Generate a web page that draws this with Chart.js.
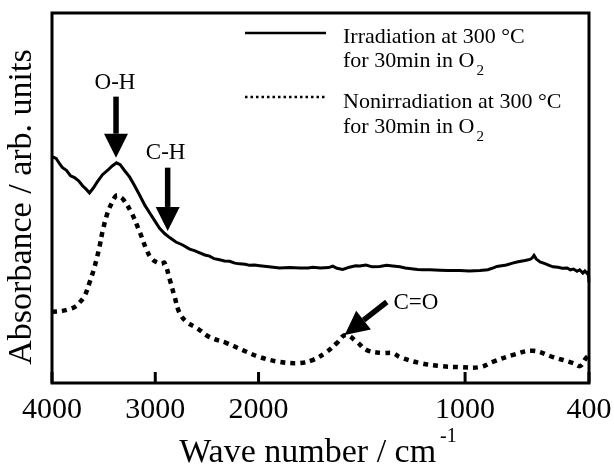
<!DOCTYPE html>
<html>
<head>
<meta charset="utf-8">
<script src="https://cdn.jsdelivr.net/npm/chart.js@4.4.0/dist/chart.umd.min.js"></script>
<style>
  body { margin: 0; background: #fff; }
  #wrap { width: 614px; height: 465px; }
</style>
</head>
<body>
<div id="wrap"><canvas id="c" width="614" height="465"></canvas></div>
<script>
// irradiated sample (solid line)
const waveIrr = [4000, 3960, 3920, 3898, 3860, 3820, 3782, 3740, 3704, 3670, 3637, 3600, 3560, 3511, 3460, 3420, 3375, 3340, 3300, 3249,
  3200, 3152, 3100, 3055, 3000, 2958, 2910, 2861, 2800, 2735, 2667, 2620, 2570, 2520, 2474, 2430, 2377, 2330, 2280, 2230,
  2183, 2130, 2086, 2040, 1994, 1950, 1898, 1850, 1800, 1760, 1738, 1700, 1660, 1641, 1620, 1592, 1560, 1530, 1510, 1480,
  1450, 1413, 1380, 1350, 1316, 1290, 1260, 1230, 1205, 1170, 1122, 1080, 1025, 980, 928, 890, 860, 846, 800, 770,
  749, 710, 686, 675, 666, 655, 637, 610, 590, 574, 550, 530, 506, 490, 475, 458, 445, 430, 420, 409, 403, 400]
const absIrr = [0.612, 0.607, 0.590, 0.582, 0.575, 0.560, 0.555, 0.546, 0.533, 0.524, 0.514, 0.527, 0.544, 0.563, 0.575, 0.586, 0.595, 0.590, 0.575, 0.557,
  0.533, 0.508, 0.480, 0.460, 0.436, 0.418, 0.404, 0.393, 0.381, 0.373, 0.362, 0.358, 0.352, 0.346, 0.343, 0.336, 0.333, 0.330, 0.329, 0.324,
  0.322, 0.321, 0.318, 0.319, 0.317, 0.314, 0.311, 0.312, 0.311, 0.311, 0.313, 0.311, 0.312, 0.316, 0.310, 0.307, 0.313, 0.317, 0.316, 0.319,
  0.314, 0.315, 0.318, 0.316, 0.314, 0.311, 0.309, 0.307, 0.306, 0.306, 0.305, 0.304, 0.304, 0.303, 0.304, 0.306, 0.312, 0.315, 0.319, 0.324,
  0.327, 0.331, 0.334, 0.338, 0.345, 0.335, 0.327, 0.322, 0.317, 0.314, 0.313, 0.310, 0.311, 0.306, 0.308, 0.302, 0.306, 0.297, 0.303, 0.296, 0.300, 0.272]

// non-irradiated sample (dotted line)
const waveNon = [4000, 3900, 3830, 3770, 3734, 3685, 3637, 3588, 3540, 3511, 3462, 3420, 3375, 3340, 3307, 3230, 3152, 3084, 3036, 2977,
  2940, 2910, 2861, 2813, 2764, 2696, 2599, 2474, 2309, 2154, 1994, 1897, 1800, 1738, 1670, 1621, 1578, 1524, 1476, 1398,
  1350, 1316, 1219, 1122, 1025, 928, 866, 768, 671, 574, 477, 443, 414, 400]
const absNon = [0.192, 0.195, 0.200, 0.207, 0.217, 0.235, 0.271, 0.314, 0.368, 0.409, 0.460, 0.487, 0.507, 0.503, 0.495, 0.460, 0.409, 0.360, 0.336, 0.325,
  0.322, 0.325, 0.281, 0.233, 0.189, 0.165, 0.149, 0.124, 0.108, 0.089, 0.070, 0.057, 0.054, 0.062, 0.084, 0.108, 0.130, 0.111, 0.089, 0.081,
  0.081, 0.070, 0.054, 0.046, 0.043, 0.043, 0.057, 0.076, 0.087, 0.070, 0.054, 0.046, 0.068, 0.076]

const tickValues = [4000, 3000, 2000, 1000, 400]
const tickLabels = ['4000', '3000', '2000', '1000', '400']

const legendLines = [
  ['Irradiation at 300 °C', 'for 30min in O'],
  ['Nonirradiation at 300 °C', 'for 30min in O']
]

// peak marks: label, arrow tail, arrow tip (wave number, absorbance)
const peakNames = ['O-H', 'C-H', 'C=O']
const peakLabelAt = [[3390, 0.812], [2900, 0.622], [1238, 0.217]]
const peakTail = [[3380, 0.774], [2880, 0.582], [1379, 0.219]]
const peakTip = [[3380, 0.609], [2880, 0.411], [1583, 0.130]]

const serif = 'Liberation Serif, Times New Roman, serif'

// wave number axis: 2000-400 gets twice the room per cm-1 of 4000-2000
class WaveScale extends Chart.LinearScale {
  determineDataLimits() { this.min = 400; this.max = 4000 }
  buildTicks() { return tickValues.map(v => ({ value: v })) }
  toDecimal(v) { return v >= 2000 ? (4000 - v) / 5200 : (2000 + (2000 - v) * 2) / 5200 }
  getPixelForValue(v) { return this.getPixelForDecimal(this.toDecimal(v)) }
  getValueForPixel(px) {
    let d = this.getDecimalForPixel(px) * 5200
    return d <= 2000 ? 4000 - d : 2000 - (d - 2000) / 2
  }
}
WaveScale.id = 'wave'
WaveScale.defaults = Chart.LinearScale.defaults
Chart.register(WaveScale)

const arrow = (ctx, x1, y1, x2, y2) => {
  let ang = Math.atan2(y2 - y1, x2 - x1)
  let head = 24
  let bx = x2 - Math.cos(ang) * head
  let by = y2 - Math.sin(ang) * head
  ctx.lineWidth = 5.5
  ctx.lineCap = 'butt'
  ctx.beginPath()
  ctx.moveTo(x1, y1)
  ctx.lineTo(bx, by)
  ctx.stroke()
  ctx.beginPath()
  ctx.moveTo(x2, y2)
  ctx.lineTo(bx + Math.sin(ang) * 12, by - Math.cos(ang) * 12)
  ctx.lineTo(bx - Math.sin(ang) * 12, by + Math.cos(ang) * 12)
  ctx.closePath()
  ctx.fill()
}

const decorations = {
  id: 'decorations',
  afterDraw(chart) {
    const ctx = chart.ctx
    const a = chart.chartArea
    const xs = chart.scales.x
    const ys = chart.scales.y
    ctx.save()
    ctx.setLineDash([])
    ctx.strokeStyle = '#000'
    ctx.fillStyle = '#000'

    // frame
    ctx.lineWidth = 3
    ctx.strokeRect(a.left, a.top, a.right - a.left, a.bottom - a.top)

    // inward ticks on the bottom axis
    ctx.lineWidth = 3
    tickValues.forEach(v => {
      let px = xs.getPixelForValue(v)
      ctx.beginPath()
      ctx.moveTo(px, a.bottom)
      ctx.lineTo(px, a.bottom - 11)
      ctx.stroke()
    })

    // y title
    ctx.save()
    ctx.translate(22, 207)
    ctx.rotate(-Math.PI / 2)
    ctx.font = '34px ' + serif
    ctx.textAlign = 'center'
    ctx.textBaseline = 'middle'
    ctx.fillText('Absorbance / arb. units', 0, 0)
    ctx.restore()

    // x title with superscript
    ctx.font = '34px ' + serif
    let main = 'Wave number / cm'
    let mw = ctx.measureText(main).width
    ctx.font = '20px ' + serif
    let sw = ctx.measureText('-1').width
    let x0 = 318 - (mw + 4 + sw) / 2
    ctx.textAlign = 'left'
    ctx.textBaseline = 'alphabetic'
    ctx.font = '34px ' + serif
    ctx.fillText(main, x0, 462)
    ctx.font = '20px ' + serif
    ctx.fillText('-1', x0 + mw + 4, 442)

    // legend
    ctx.lineWidth = 2.5
    ctx.beginPath()
    ctx.moveTo(245, 33)
    ctx.lineTo(326, 33)
    ctx.stroke()
    ctx.setLineDash([2.5, 3])
    ctx.beginPath()
    ctx.moveTo(245, 97)
    ctx.lineTo(326, 97)
    ctx.stroke()
    ctx.setLineDash([])
    const baselines = [[43, 67], [108, 133]]
    legendLines.forEach((lines, i) => {
      lines.forEach((t, j) => {
        ctx.font = '22px ' + serif
        ctx.fillText(t, 343, baselines[i][j])
        if (j === 1) {
          let w = ctx.measureText(t).width
          ctx.font = '15px ' + serif
          ctx.fillText('2', 343 + w + 2, baselines[i][j] + 8)
        }
      })
    })

    // peak arrows and labels
    ctx.font = '23px ' + serif
    ctx.textAlign = 'center'
    ctx.textBaseline = 'middle'
    peakNames.forEach((name, i) => {
      arrow(ctx, xs.getPixelForValue(peakTail[i][0]), ys.getPixelForValue(peakTail[i][1]),
        xs.getPixelForValue(peakTip[i][0]), ys.getPixelForValue(peakTip[i][1]))
      ctx.fillText(name, xs.getPixelForValue(peakLabelAt[i][0]), ys.getPixelForValue(peakLabelAt[i][1]))
    })
    ctx.restore()
  }
}

Chart.defaults.color = '#000'

new Chart(document.getElementById('c'), {
  type: 'line',
  data: {
    datasets: [
      {
        label: 'Irradiation at 300 °C for 30min in O2',
        data: waveIrr.map((w, i) => ({ x: w, y: absIrr[i] })),
        borderColor: '#000',
        borderWidth: 3,
        pointRadius: 0,
        tension: 0,
        fill: false
      },
      {
        label: 'Nonirradiation at 300 °C for 30min in O2',
        data: waveNon.map((w, i) => ({ x: w, y: absNon[i] })),
        borderColor: '#000',
        borderWidth: 4.5,
        borderDash: [5, 5],
        borderCapStyle: 'butt',
        pointRadius: 0,
        tension: 0.4,
        fill: false
      }
    ]
  },
  options: {
    responsive: false,
    animation: false,
    layout: { padding: { top: 13, right: 25, left: 0, bottom: 0 } },
    plugins: { legend: { display: false }, tooltip: { enabled: false } },
    scales: {
      x: {
        type: 'wave',
        position: 'bottom',
        // fixed height, and don't let the end labels push the plot inwards
        afterFit: s => { s.height = 82; s.paddingLeft = 0; s.paddingRight = 0 },
        grid: { display: false, drawTicks: false, tickLength: 0 },
        border: { display: false },
        ticks: {
          autoSkip: false,
          maxRotation: 0,
          minRotation: 0,
          padding: 9,
          color: '#000',
          font: { family: serif, size: 30 },
          callback: (v, i) => tickLabels[i]
        }
      },
      y: {
        min: 0,
        max: 1,
        afterFit: s => { s.width = 52 },
        ticks: { display: false },
        grid: { display: false },
        border: { display: false }
      }
    }
  },
  plugins: [decorations]
})
</script>
</body>
</html>
